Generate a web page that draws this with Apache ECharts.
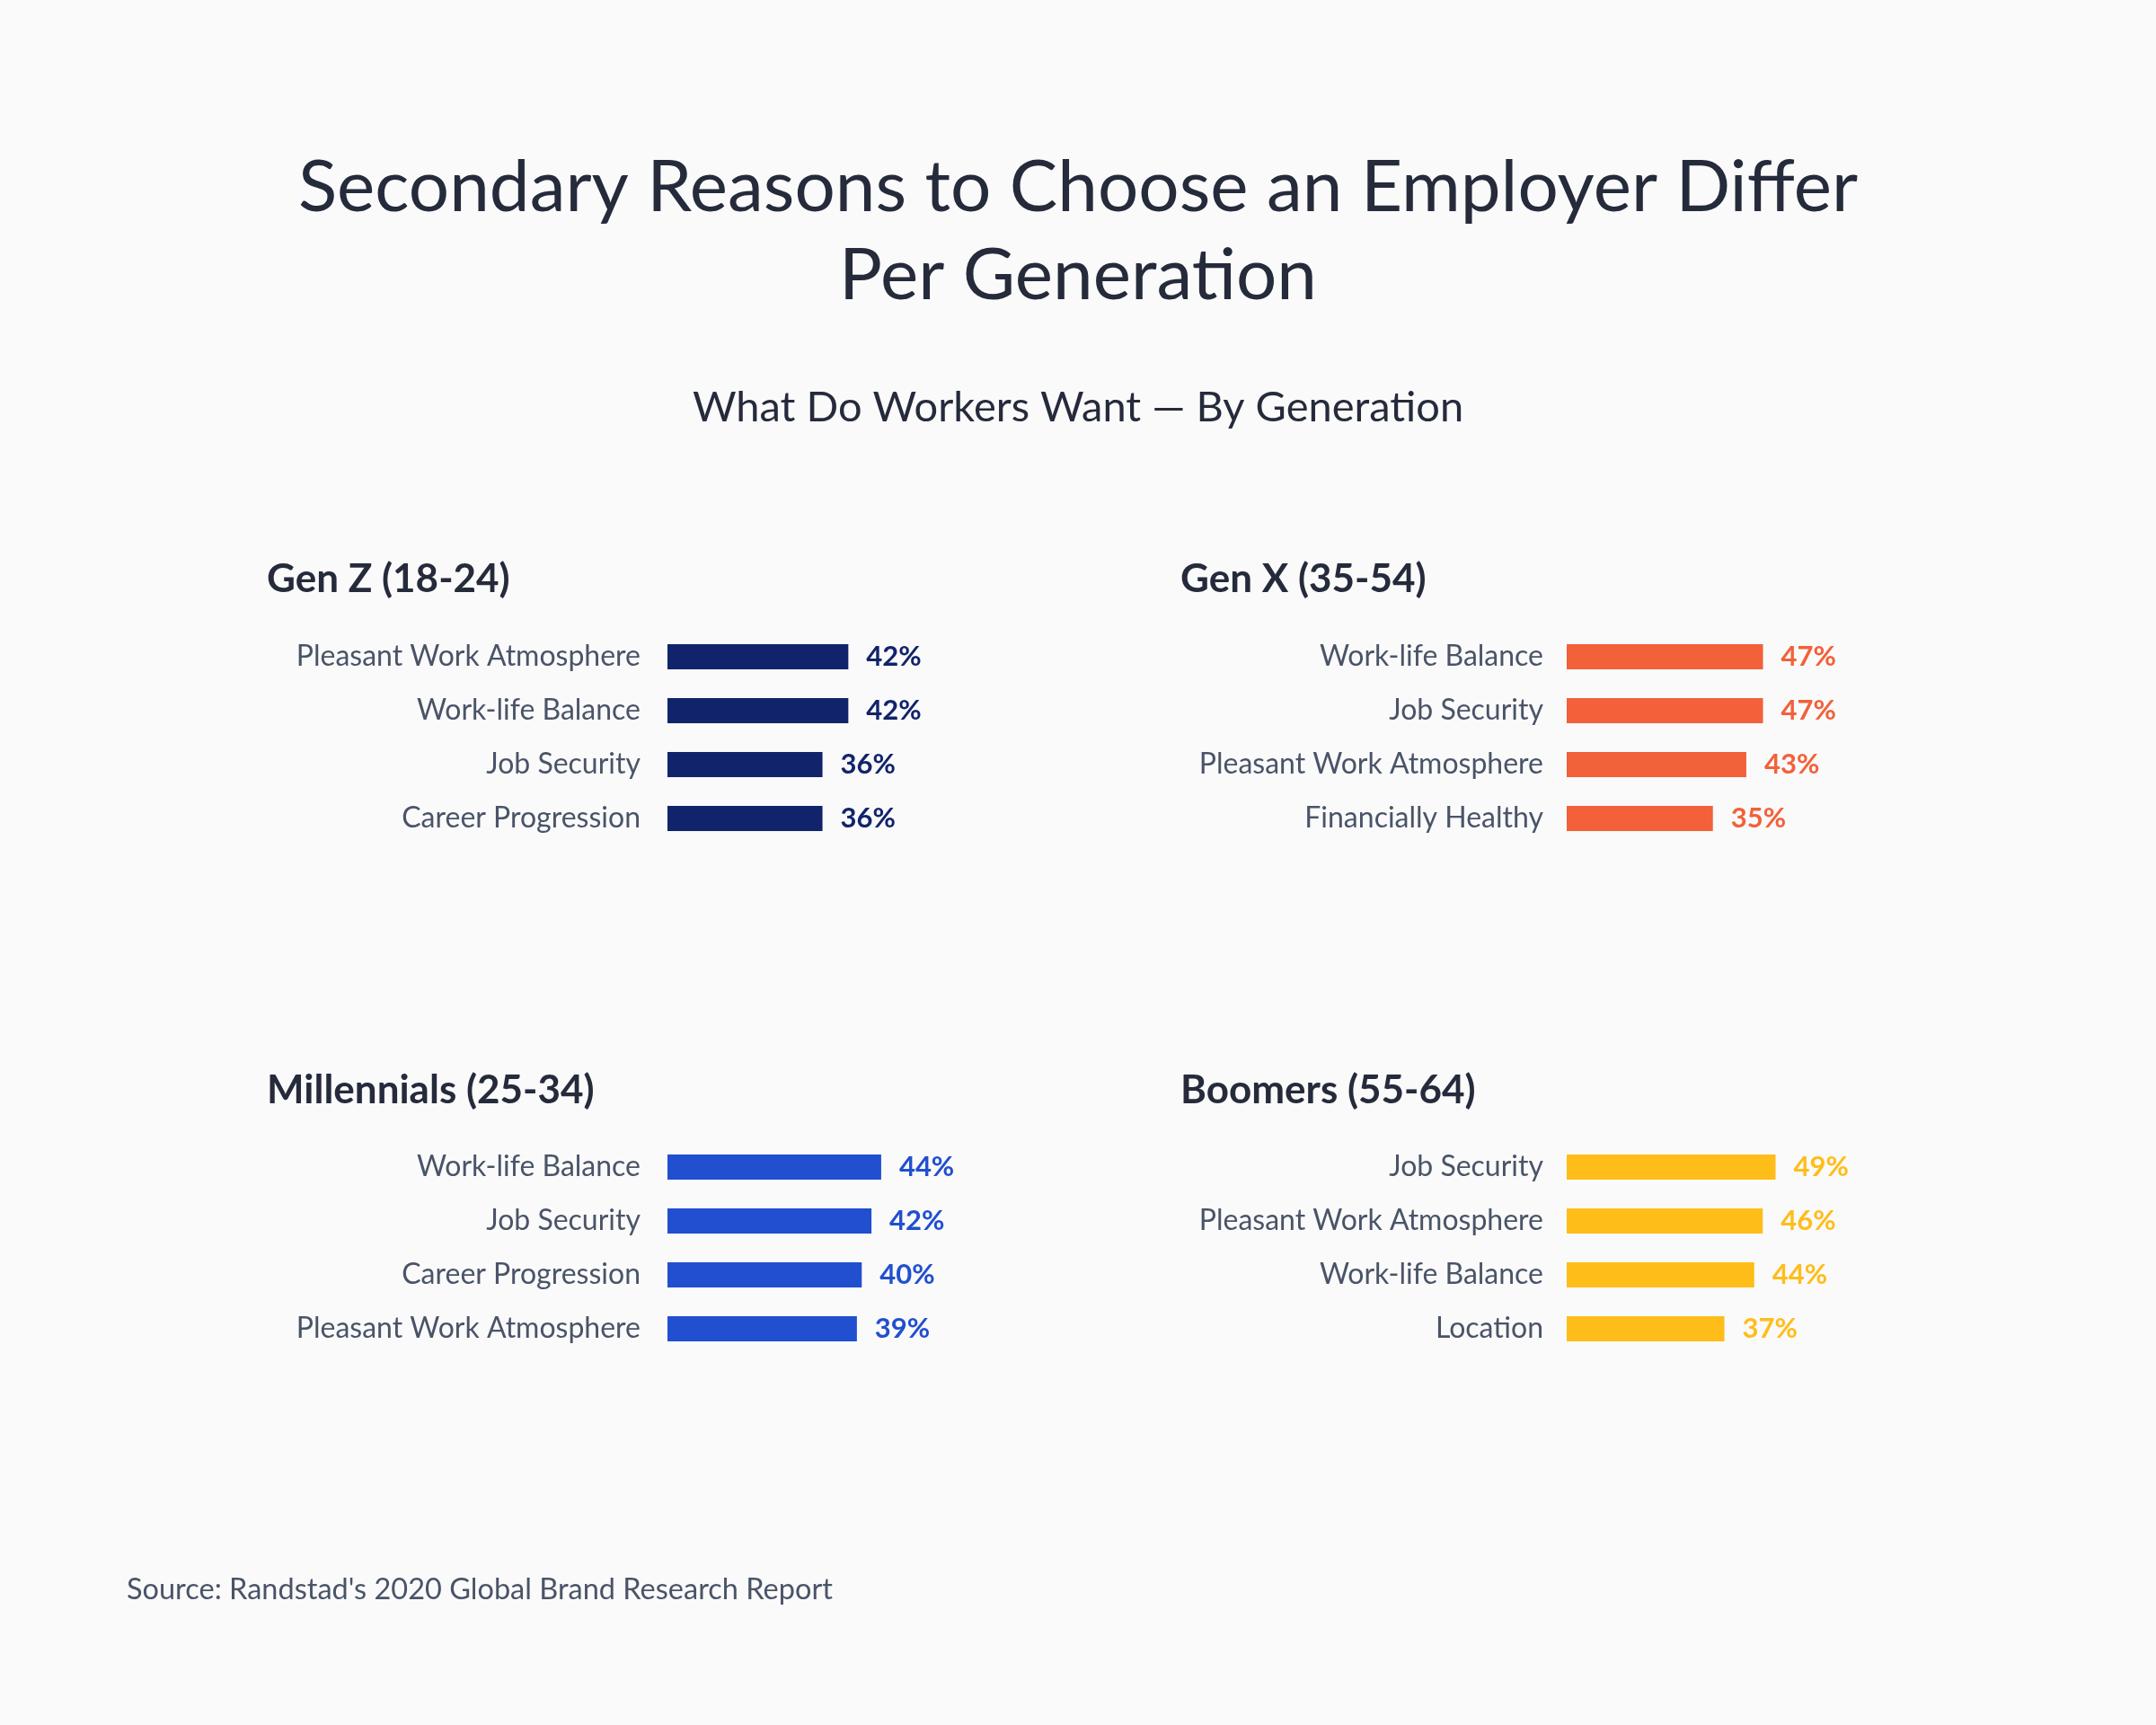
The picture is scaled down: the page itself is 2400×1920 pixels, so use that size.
<!DOCTYPE html>
<html>
<head>
<meta charset="utf-8">
<script src="https://cdn.jsdelivr.net/npm/echarts@6/dist/echarts.min.js"></script>
<style>
html,body{margin:0;padding:0;background:#fafafa;}
#chart{width:2400px;height:1920px;}
</style>
</head>
<body>
<div id="chart"></div>
<script>
// ---- Data ----
const mainTitle = 'Secondary Reasons to Choose an Employer Differ\nPer Generation';
const subTitle = 'What Do Workers Want \u2014 By Generation';
const sourceText = "Source: Randstad's 2020 Global Brand Research Report";

const panelTitles = ['Gen Z (18-24)', 'Gen X (35-54)', 'Millennials (25-34)', 'Boomers (55-64)'];

const genZCats = ['Pleasant Work Atmosphere', 'Work-life Balance', 'Job Security', 'Career Progression'];
const genZVals = [42, 42, 36, 36];

const genXCats = ['Work-life Balance', 'Job Security', 'Pleasant Work Atmosphere', 'Financially Healthy'];
const genXVals = [47, 47, 43, 35];

const millCats = ['Work-life Balance', 'Job Security', 'Career Progression', 'Pleasant Work Atmosphere'];
const millVals = [44, 42, 40, 39];

const boomCats = ['Job Security', 'Pleasant Work Atmosphere', 'Work-life Balance', 'Location'];
const boomVals = [49, 46, 44, 37];

const panelColors = ['#11246b', '#f2613a', '#214fcf', '#ffbd1a'];

// ---- Layout ----
const panels = [
  {cats: genZCats, vals: genZVals, left: 743, top: 701, titleLeft: 297, titleTop: 620, max: 97, margin: 30},
  {cats: genXCats, vals: genXVals, left: 1744, top: 701, titleLeft: 1314, titleTop: 620, max: 100, margin: 26},
  {cats: millCats, vals: millVals, left: 743, top: 1269, titleLeft: 297, titleTop: 1189, max: 86, margin: 30},
  {cats: boomCats, vals: boomVals, left: 1744, top: 1269, titleLeft: 1314, titleTop: 1189, max: 98, margin: 26}
];

const FONT = 'Lato, "Noto Sans", sans-serif';
const titles = [
  {text: mainTitle, left: 'center', top: 155,
   textStyle: {fontFamily: FONT, fontSize: 80, fontWeight: 'normal', color: '#252b3b', lineHeight: 98}},
  {text: subTitle, left: 'center', top: 419,
   textStyle: {fontFamily: FONT, fontSize: 47, fontWeight: 'normal', color: '#252b3b', lineHeight: 60}},
  {text: sourceText, left: 136, top: 1745,
   textStyle: {fontFamily: FONT, fontSize: 32.5, fontWeight: 'normal', color: '#4a5468', lineHeight: 40}}
];
const grids = [], xAxes = [], yAxes = [], series = [];
panels.forEach((p, i) => {
  titles.push({text: panelTitles[i], left: p.titleLeft, top: p.titleTop, padding: 0,
    textStyle: {fontFamily: FONT, fontSize: 44, fontWeight: 'bold', color: '#252b3b', lineHeight: 50}});
  grids.push({left: p.left, top: p.top, width: 465, height: 240, containLabel: false});
  xAxes.push({type: 'value', gridIndex: i, min: 0, max: p.max, show: false});
  yAxes.push({type: 'category', gridIndex: i, data: p.cats, inverse: true,
    axisLine: {show: false}, axisTick: {show: false}, splitLine: {show: false},
    axisLabel: {margin: p.margin, fontFamily: FONT, fontSize: 32, color: '#4a5468'}});
  series.push({type: 'bar', xAxisIndex: i, yAxisIndex: i, data: p.vals, barWidth: 28,
    itemStyle: {color: panelColors[i]},
    label: {show: true, position: 'right', distance: 20, formatter: '{c}%',
      fontFamily: FONT, fontSize: 31, fontWeight: 'bold', color: panelColors[i]},
    animation: false});
});

const chart = echarts.init(document.getElementById('chart'));
chart.setOption({
  backgroundColor: '#fafafa',
  animation: false,
  title: titles,
  grid: grids,
  xAxis: xAxes,
  yAxis: yAxes,
  series: series
});
</script>
</body>
</html>
